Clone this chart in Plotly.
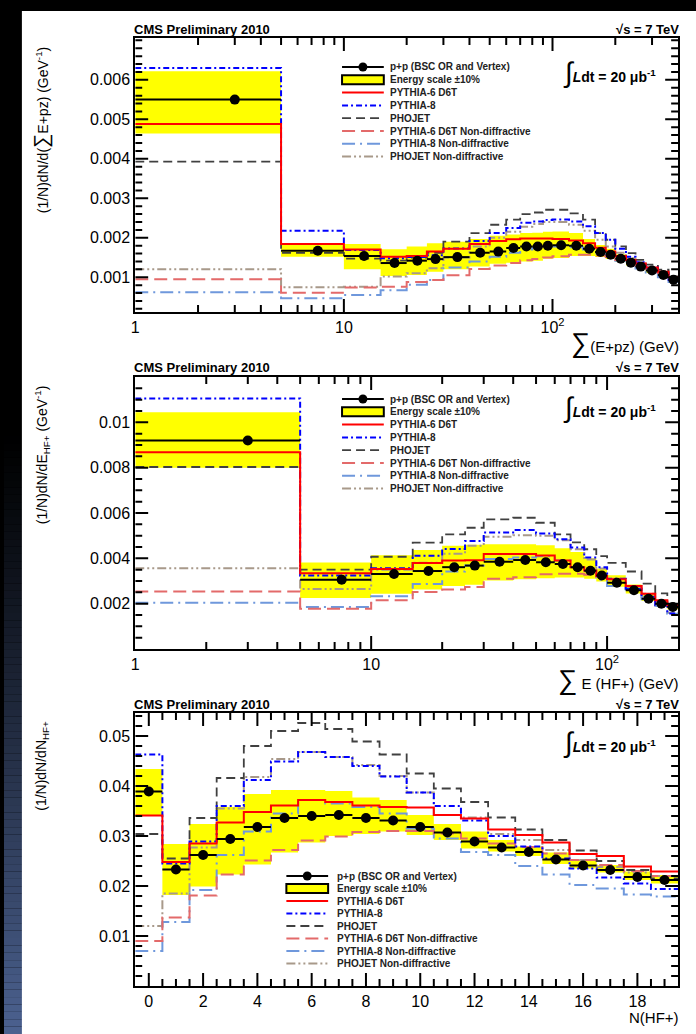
import math
import plotly.graph_objects as go

W, H = 696, 1034

# ---------------- Panel 1: sum(E+pz), values in 1e-3 GeV^-1 ----------------
EPZ_UNIT = 1e-3
edges_epz = [1, 5, 10, 15, 20, 25, 30, 40, 50, 60, 70, 80, 90, 100, 120, 140, 160,
             180, 200, 225, 250, 280, 320, 360, 400]
epz_data = [5.50, 1.67, 1.54, 1.36, 1.42, 1.46, 1.51, 1.62, 1.65, 1.74, 1.78, 1.78,
            1.80, 1.81, 1.80, 1.72, 1.64, 1.57, 1.47, 1.37, 1.27, 1.17, 1.06, 0.94]
epz_sys_lo = [4.64, 1.52, 1.20, 1.03, 1.06, 1.14, 1.20, 1.27, 1.34, 1.37, 1.40, 1.42,
              1.47, 1.49, 1.54, 1.54, 1.51, 1.46, 1.39, 1.30, 1.21, 1.11, 1.01, 0.89]
epz_sys_hi = [6.22, 1.86, 1.84, 1.71, 1.78, 1.86, 1.90, 1.97, 2.05, 2.08, 2.12, 2.13,
              2.15, 2.16, 2.12, 1.97, 1.82, 1.72, 1.58, 1.46, 1.34, 1.23, 1.12, 0.99]
epz_d6t = [4.88, 1.84, 1.70, 1.52, 1.54, 1.65, 1.72, 1.84, 1.92, 1.96, 1.98, 1.98,
           1.98, 1.97, 1.93, 1.86, 1.75, 1.65, 1.54, 1.44, 1.35, 1.25, 1.14, 1.00]
epz_py8 = [6.30, 2.18, 1.69, 1.48, 1.51, 1.56, 1.73, 1.92, 2.12, 2.25, 2.38, 2.41,
           2.45, 2.46, 2.41, 2.29, 2.12, 1.95, 1.72, 1.52, 1.38, 1.25, 1.10, 0.93]
epz_phojet = [3.93, 1.62, 1.47, 1.42, 1.50, 1.62, 1.90, 2.12, 2.33, 2.46, 2.60, 2.64,
              2.71, 2.71, 2.62, 2.46, 2.12, 1.95, 1.78, 1.61, 1.44, 1.32, 1.19, 1.02]
epz_d6t_nd = [0.95, 0.61, 0.74, 0.76, 0.88, 0.93, 1.05, 1.21, 1.30, 1.36, 1.43, 1.46,
              1.50, 1.53, 1.57, 1.57, 1.55, 1.51, 1.44, 1.38, 1.30, 1.21, 1.11, 1.00]
epz_py8_nd = [0.62, 0.47, 0.55, 0.67, 0.81, 0.93, 1.25, 1.40, 1.52, 1.62, 1.70, 1.74,
              1.76, 1.78, 1.76, 1.70, 1.60, 1.52, 1.42, 1.32, 1.22, 1.12, 1.00, 0.88]
epz_pho_nd = [1.20, 0.75, 0.76, 1.02, 1.10, 1.23, 1.50, 1.78, 2.00, 2.15, 2.28, 2.35,
              2.40, 2.40, 2.33, 2.18, 1.95, 1.78, 1.62, 1.48, 1.35, 1.22, 1.09, 0.96]

# ---------------- Panel 2: sum E (HF+), values in 1e-3 GeV^-1 ----------------
HF_UNIT = 1e-3
edges_hf = [1, 5, 10, 15, 20, 25, 30, 40, 50, 60, 70, 80, 90, 100, 120, 140, 160, 180, 200]
hf_data = [9.20, 3.06, 3.31, 3.44, 3.61, 3.68, 3.85, 3.93, 3.83, 3.75, 3.61, 3.45,
           3.24, 2.92, 2.59, 2.22, 2.00, 1.85]
hf_sys_lo = [8.00, 2.25, 2.44, 2.63, 2.78, 2.83, 3.02, 3.08, 3.12, 3.15, 3.15, 3.10,
             2.98, 2.75, 2.45, 2.12, 1.90, 1.75]
hf_sys_hi = [10.45, 3.82, 4.14, 4.37, 4.55, 4.60, 4.62, 4.62, 4.58, 4.45, 4.28, 4.00,
             3.55, 3.25, 2.85, 2.45, 2.14, 1.95]
hf_d6t = [8.68, 3.34, 3.53, 3.79, 3.90, 3.92, 4.19, 4.19, 4.12, 3.90, 3.61, 3.46,
          3.22, 3.08, 2.78, 2.44, 2.15, 1.93]
hf_py8 = [11.05, 3.24, 3.56, 4.11, 4.41, 4.77, 5.14, 5.25, 5.10, 4.84, 4.48, 4.04,
          3.61, 3.10, 2.66, 2.30, 1.93, 1.57]
hf_phojet = [8.03, 3.50, 4.07, 4.69, 5.06, 5.35, 5.72, 5.79, 5.57, 5.06, 4.70, 4.40,
             4.10, 3.80, 3.42, 2.88, 2.45, 1.93]
hf_d6t_nd = [2.54, 1.78, 2.15, 2.51, 2.62, 2.73, 3.10, 3.17, 3.30, 3.32, 3.32, 3.28,
             3.20, 3.08, 2.78, 2.44, 2.12, 1.90]
hf_py8_nd = [2.04, 1.85, 2.33, 2.87, 3.42, 3.68, 3.97, 4.04, 4.09, 3.90, 3.62, 3.46,
             3.05, 2.78, 2.62, 2.20, 1.90, 1.55]
hf_pho_nd = [3.56, 2.65, 3.50, 3.80, 4.20, 4.55, 4.95, 5.02, 5.00, 4.80, 4.40, 3.95,
             3.55, 3.10, 2.66, 2.28, 1.92, 1.60]

# ---------------- Panel 3: N(HF+) multiplicity, values in 1e-2 ----------------
N_UNIT = 1e-2
n_bins = list(range(20))
n_data = [3.89, 2.33, 2.62, 2.94, 3.18, 3.36, 3.40, 3.42, 3.36, 3.31, 3.18, 3.07,
          2.89, 2.77, 2.68, 2.53, 2.41, 2.32, 2.18, 2.12]
n_sys_lo = [3.41, 1.82, 1.99, 2.23, 2.43, 2.67, 2.87, 3.00, 3.04, 3.09, 3.02, 2.92,
            2.75, 2.69, 2.60, 2.44, 2.35, 2.27, 2.12, 2.05]
n_sys_hi = [4.34, 2.84, 3.24, 3.58, 3.84, 3.92, 3.92, 3.90, 3.77, 3.72, 3.42, 3.24,
            3.09, 2.92, 2.79, 2.67, 2.52, 2.42, 2.29, 2.22]
n_d6t = [3.41, 2.48, 2.85, 3.27, 3.48, 3.61, 3.72, 3.68, 3.61, 3.58, 3.57, 3.42,
         3.35, 3.13, 3.02, 2.87, 2.64, 2.60, 2.39, 2.29]
n_py8 = [4.63, 2.45, 2.89, 3.60, 4.12, 4.49, 4.68, 4.58, 4.40, 4.19, 3.87, 3.60,
         3.31, 3.00, 2.79, 2.55, 2.35, 2.17, 2.05, 1.94]
n_phojet = [3.04, 2.55, 3.36, 4.16, 4.80, 5.10, 5.26, 5.14, 4.89, 4.63, 4.25, 3.95,
            3.68, 3.37, 3.13, 2.92, 2.71, 2.50, 2.32, 2.15]
n_d6t_nd = [0.90, 1.37, 1.81, 2.23, 2.51, 2.72, 2.91, 2.99, 3.08, 3.10, 3.10, 3.05,
            2.95, 2.85, 2.78, 2.65, 2.52, 2.42, 2.30, 2.20]
n_py8_nd = [0.70, 1.28, 1.92, 2.62, 3.09, 3.45, 3.72, 3.65, 3.58, 3.45, 3.15, 2.95,
            2.68, 2.62, 2.40, 2.23, 2.02, 1.95, 1.83, 1.79]
n_pho_nd = [1.20, 1.85, 2.77, 3.55, 4.18, 4.54, 4.68, 4.58, 4.42, 4.20, 3.87, 3.42,
            3.37, 3.04, 2.92, 2.72, 2.52, 2.38, 2.27, 2.20]

legend_labels = ["p+p (BSC OR and Vertex)", "Energy scale \u00b110%", "PYTHIA-6 D6T",
                 "PYTHIA-8", "PHOJET", "PYTHIA-6 D6T Non-diffractive",
                 "PYTHIA-8 Non-diffractive", "PHOJET Non-diffractive"]

# ---------------- styles ----------------
FONT = "Liberation Sans"
YELLOW = "#ffff00"
MC_STYLES = {
    "d6t": dict(color="#ff0000", width=2, dash="solid"),
    "py8": dict(color="#0000ff", width=2, dash="6px,3px,2px,3px"),
    "phojet": dict(color="#404040", width=1.8, dash="9px,5px"),
    "d6t_nd": dict(color="#e36a6a", width=2, dash="13px,6px"),
    "py8_nd": dict(color="#6f98dc", width=2, dash="13px,5px,2px,5px"),
    "pho_nd": dict(color="#a8998a", width=2, dash="9px,3px,2px,3px,2px,3px"),
}
LEGEND_STYLE_KEYS = [None, None, "d6t", "py8", "phojet", "d6t_nd", "py8_nd", "pho_nd"]
MAJOR_LEN, MINOR_LEN = 13, 7


def px_x(p):
    return p / W


def px_y(p):
    return 1 - p / H


FRAME_L, FRAME_R = 132, 678
log_minor = [m * 10 ** d for d in range(0, 3) for m in range(2, 10)]
panels = [
    dict(top=38, bottom=312, xtype="log", xrange=[0, math.log10(400)],
         yrange=[0.00012, 0.00706], edges=edges_epz, unit=EPZ_UNIT,
         data=epz_data, lo=epz_sys_lo, hi=epz_sys_hi,
         mc=dict(d6t=epz_d6t, py8=epz_py8, phojet=epz_phojet, d6t_nd=epz_d6t_nd,
                 py8_nd=epz_py8_nd, pho_nd=epz_pho_nd),
         xtick=[1, 10, 100], xtext=["1", "10", "10<sup>2</sup>"], xminor=log_minor,
         ytick=[0.001 * k for k in range(1, 7)], ytext=["0.001", "0.002", "0.003",
                                                       "0.004", "0.005", "0.006"],
         yminor=[0.0002 * k for k in range(1, 36)],
         ytitle="(1/N)dN/d(<span style='font-size:20px'>\u2211</span>E+pz) (GeV<sup>-1</sup>)",
         xtitle="<span style='font-size:27px'>\u2211</span>(E+pz) (GeV)",
         legend=dict(x0=340, x1=382, tx=386, y0=67, dy=12.8),
         lumi=(560, 73)),
    dict(top=377, bottom=649, xtype="log", xrange=[0, math.log10(200)],
         yrange=[0.0, 0.012], edges=edges_hf, unit=HF_UNIT,
         data=hf_data, lo=hf_sys_lo, hi=hf_sys_hi,
         mc=dict(d6t=hf_d6t, py8=hf_py8, phojet=hf_phojet, d6t_nd=hf_d6t_nd,
                 py8_nd=hf_py8_nd, pho_nd=hf_pho_nd),
         xtick=[1, 10, 100], xtext=["1", "10", "10<sup>2</sup>"], xminor=log_minor,
         ytick=[0.002 * k for k in range(1, 6)], ytext=["0.002", "0.004", "0.006",
                                                       "0.008", "0.01"],
         yminor=[0.0005 * k for k in range(1, 24)],
         ytitle="(1/N)dN/dE<sub>HF+</sub> (GeV<sup>-1</sup>)",
         xtitle="<span style='font-size:27px'>\u2211</span> E (HF+) (GeV)",
         legend=dict(x0=340, x1=382, tx=386, y0=399, dy=12.8),
         lumi=(560, 408)),
    dict(top=713, bottom=986, xtype="linear", xrange=[-0.5, 19.5],
         yrange=[0.0, 0.0546], edges=[b - 0.5 for b in n_bins] + [n_bins[-1] + 0.5],
         unit=N_UNIT, data=n_data, lo=n_sys_lo, hi=n_sys_hi,
         mc=dict(d6t=n_d6t, py8=n_py8, phojet=n_phojet, d6t_nd=n_d6t_nd,
                 py8_nd=n_py8_nd, pho_nd=n_pho_nd),
         xtick=list(range(0, 19, 2)), xtext=[str(v) for v in range(0, 19, 2)],
         xminor=[0.5 * j for j in range(1, 39)],
         ytick=[0.01 * k for k in range(1, 6)], ytext=["0.01", "0.02", "0.03",
                                                      "0.04", "0.05"],
         yminor=[0.002 * k for k in range(1, 28)],
         ytitle="(1/N)dN/dN<sub>HF+</sub>",
         xtitle="N(HF+)",
         legend=dict(x0=284, x1=326, tx=333, y0=876, dy=12.5),
         lumi=(560, 742)),
]

fig = go.Figure()
shapes = []
annotations = []

# slide background: dark strip on the left fading to blue, white sheet
N_STRIPS = 140
for i in range(N_STRIPS):
    y0p, y1p = i * H / N_STRIPS, (i + 1) * H / N_STRIPS
    t = ((y0p + y1p) / 2 - 430) / (H - 430)
    f = max(0.0, min(1.0, t)) ** 1.15
    col = "rgb(%d,%d,%d)" % (int(76 * f), int(98 * f), int(145 * f))
    shapes.append(dict(type="rect", xref="paper", yref="paper", layer="below",
                       x0=0, x1=px_x(19), y0=px_y(y1p), y1=px_y(y0p),
                       fillcolor=col, line=dict(width=0)))
shapes.append(dict(type="rect", xref="paper", yref="paper", layer="below",
                   x0=px_x(18), x1=1, y0=0, y1=px_y(11),
                   fillcolor="white", line=dict(width=0)))


def frame_ticks(p, xvals, yvals, length):
    """Inward tick segments on all four sides of a panel, in data coordinates."""
    is_log = p["xtype"] == "log"
    xr0, xr1 = p["xrange"]
    yr0, yr1 = p["yrange"]
    wpx = FRAME_R - FRAME_L
    hpx = p["bottom"] - p["top"]
    dy = length / hpx * (yr1 - yr0)
    du = length / wpx * (xr1 - xr0)

    def to_data(u):
        return 10 ** u if is_log else u

    def to_axis(v):
        return math.log10(v) if is_log else v

    xs, ys = [], []
    for v in xvals:
        if not (xr0 < to_axis(v) < xr1):
            continue
        xs += [v, v, None, v, v, None]
        ys += [yr0, yr0 + dy, None, yr1, yr1 - dy, None]
    for v in yvals:
        if not (yr0 < v < yr1):
            continue
        xs += [to_data(xr0), to_data(xr0 + du), None, to_data(xr1), to_data(xr1 - du), None]
        ys += [v, v, None, v, v, None]
    return xs, ys


for k, p in enumerate(panels, start=1):
    xa = "x" if k == 1 else "x%d" % k
    ya = "y" if k == 1 else "y%d" % k
    edges, unit = p["edges"], p["unit"]
    nb = len(p["data"])

    # energy-scale band
    bx, by = [], []
    for i in range(nb):
        x0, x1 = edges[i], edges[i + 1]
        lo, hi = p["lo"][i] * unit, p["hi"][i] * unit
        bx += [x0, x1, x1, x0, x0, None]
        by += [lo, lo, hi, hi, lo, None]
    fig.add_trace(go.Scatter(x=bx, y=by, xaxis=xa, yaxis=ya, mode="lines",
                             fill="toself", fillcolor=YELLOW,
                             line=dict(width=0, color=YELLOW), hoverinfo="skip",
                             showlegend=False))

    # MC histograms
    for key in ["pho_nd", "py8_nd", "d6t_nd", "phojet", "py8", "d6t"]:
        vals = p["mc"][key]
        ys = [v * unit for v in vals] + [vals[-1] * unit]
        st = MC_STYLES[key]
        fig.add_trace(go.Scatter(x=edges, y=ys, xaxis=xa, yaxis=ya, mode="lines",
                                 line=dict(color=st["color"], width=st["width"],
                                           dash=st["dash"], shape="hv"),
                                 showlegend=False, hoverinfo="skip"))

    # data: horizontal bin-width bars and markers
    hx, hy, cx, cy = [], [], [], []
    for i in range(nb):
        x0, x1 = edges[i], edges[i + 1]
        v = p["data"][i] * unit
        hx += [x0, x1, None]
        hy += [v, v, None]
        cx.append((x0 + x1) / 2)
        cy.append(v)
    fig.add_trace(go.Scatter(x=hx, y=hy, xaxis=xa, yaxis=ya, mode="lines",
                             line=dict(color="black", width=2), showlegend=False,
                             hoverinfo="skip"))
    fig.add_trace(go.Scatter(x=cx, y=cy, xaxis=xa, yaxis=ya, mode="markers",
                             marker=dict(color="black", size=10, symbol="circle"),
                             showlegend=False))

    # frame tick marks (major and minor) on all four sides
    minor_x = [v for v in p["xminor"] if v not in p["xtick"]]
    minor_y = [v for v in p["yminor"]
               if all(abs(v - t) > 1e-9 for t in p["ytick"])]
    for xv, yv, ln in [(p["xtick"], p["ytick"], MAJOR_LEN), (minor_x, minor_y, MINOR_LEN)]:
        tx, ty = frame_ticks(p, xv, yv, ln)
        fig.add_trace(go.Scatter(x=tx, y=ty, xaxis=xa, yaxis=ya, mode="lines",
                                 line=dict(color="black", width=2),
                                 showlegend=False, hoverinfo="skip"))

    # axes
    axis_common = dict(showline=True, linecolor="black", linewidth=2, mirror=True,
                       ticks="", showgrid=False, zeroline=False,
                       tickfont=dict(family=FONT, size=16, color="black"))
    xaxis = dict(type=p["xtype"], range=p["xrange"], tickmode="array",
                 tickvals=p["xtick"], ticktext=p["xtext"])
    xaxis.update(axis_common)
    xaxis.update(domain=[px_x(FRAME_L), px_x(FRAME_R)], anchor=ya)
    yaxis = dict(range=p["yrange"], tickmode="array", tickvals=p["ytick"],
                 ticktext=p["ytext"])
    yaxis.update(axis_common)
    yaxis.update(domain=[px_y(p["bottom"]), px_y(p["top"])], anchor=xa)
    fig.update_layout(**{("xaxis" if k == 1 else "xaxis%d" % k): xaxis,
                         ("yaxis" if k == 1 else "yaxis%d" % k): yaxis})

    # header texts
    annotations.append(dict(x=px_x(129), y=px_y(p["top"] - 9), xref="paper",
                            yref="paper", xanchor="left", yanchor="middle",
                            text="<b>CMS Preliminary 2010</b>", showarrow=False,
                            font=dict(family=FONT, size=13, color="black")))
    annotations.append(dict(x=px_x(681), y=px_y(p["top"] - 9), xref="paper",
                            yref="paper", xanchor="right", yanchor="middle",
                            text="<b>\u221as = 7 TeV</b>", showarrow=False,
                            font=dict(family=FONT, size=13, color="black")))
    # axis titles
    annotations.append(dict(x=px_x(681), y=px_y(p["bottom"] + 31), xref="paper",
                            yref="paper", xanchor="right", yanchor="middle",
                            text=p["xtitle"], showarrow=False,
                            font=dict(family=FONT, size=15, color="black")))
    annotations.append(dict(x=px_x(38), y=px_y(p["top"] + 6), xref="paper",
                            yref="paper", xanchor="center", yanchor="top",
                            textangle=-90, text=p["ytitle"], showarrow=False,
                            font=dict(family=FONT, size=14, color="black")))
    # luminosity
    lx, ly = p["lumi"]
    annotations.append(dict(x=px_x(lx), y=px_y(ly), xref="paper", yref="paper",
                            xanchor="left", yanchor="middle", showarrow=False,
                            text="<span style='font-size:28px'>\u222b</span><b><i>L</i>dt = 20 \u03bcb<sup>-1</sup></b>",
                            font=dict(family=FONT, size=14, color="black")))

    # legend
    lg = p["legend"]
    for j, label in enumerate(legend_labels):
        yc = lg["y0"] + j * lg["dy"]
        key = LEGEND_STYLE_KEYS[j]
        if j == 0:
            shapes.append(dict(type="line", xref="paper", yref="paper",
                               x0=px_x(lg["x0"]), x1=px_x(lg["x1"]),
                               y0=px_y(yc), y1=px_y(yc),
                               line=dict(color="black", width=2)))
            xm = (lg["x0"] + lg["x1"]) / 2
            shapes.append(dict(type="circle", xref="paper", yref="paper",
                               x0=px_x(xm - 4.5), x1=px_x(xm + 4.5),
                               y0=px_y(yc + 4.5), y1=px_y(yc - 4.5),
                               fillcolor="black", line=dict(color="black", width=0)))
        elif j == 1:
            shapes.append(dict(type="rect", xref="paper", yref="paper",
                               x0=px_x(lg["x0"]), x1=px_x(lg["x1"]),
                               y0=px_y(yc + 4.5), y1=px_y(yc - 4.5),
                               fillcolor=YELLOW, line=dict(color="black", width=2)))
        else:
            st = MC_STYLES[key]
            shapes.append(dict(type="line", xref="paper", yref="paper",
                               x0=px_x(lg["x0"]), x1=px_x(lg["x1"]),
                               y0=px_y(yc), y1=px_y(yc),
                               line=dict(color=st["color"], width=st["width"],
                                         dash=st["dash"])))
        annotations.append(dict(x=px_x(lg["tx"]), y=px_y(yc), xref="paper",
                                yref="paper", xanchor="left", yanchor="middle",
                                text="<b>%s</b>" % label, showarrow=False,
                                font=dict(family=FONT, size=10, color="#222222")))

fig.update_layout(width=W, height=H, margin=dict(l=0, r=0, t=0, b=0),
                  paper_bgcolor="black", plot_bgcolor="white",
                  shapes=shapes, annotations=annotations, showlegend=False)

fig.write_html("out.html")
